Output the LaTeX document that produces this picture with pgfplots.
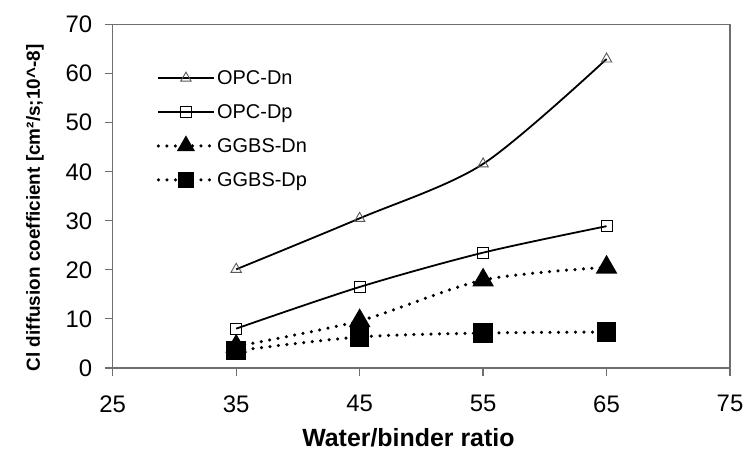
\documentclass[border=0pt]{standalone}
\usepackage{fontspec}
\setmainfont{Liberation Sans}
\usepackage{pgfplots}
\usepackage{pgfplotstable}
\pgfplotsset{compat=1.18}
\definecolor{axisgray}{RGB}{110,110,110}

% water/binder ratio vs Cl diffusion coefficient
\pgfplotstableread{
wb  opcdn opcdp ggbsdn ggbsdp
35  20.1  8.0   4.4    3.5
45  30.5  16.5  9.6    6.3
55  41.6  23.5  17.9   7.1
65  63.0  28.9  20.5   7.3
}\diffdata

\begin{document}
\begin{tikzpicture}
    \begin{axis}[
            scale only axis, width=617bp, height=343bp,
            xmin=25, xmax=75, ymin=0, ymax=70,
            xtick={25,35,...,75}, ytick={0,10,...,70},
            xtick pos=bottom, ytick pos=left,
            tick align=outside, major tick length=8bp,
            axis line style={axisgray, line width=1.3bp},
            tick style={axisgray, line width=1.3bp},
            /pgf/number format/assume math mode=true,
            ticklabel style={font=\fontsize{24}{28}\selectfont},
            xticklabel style={yshift=-16bp},
            yticklabel style={xshift=-9bp},
            xlabel={Water/binder ratio},
            ylabel={Cl diffusion coefficient [cm²/s;10\textasciicircum-8]},
            xlabel style={font=\bfseries\fontsize{25}{28}\selectfont, inner sep=0pt,
                at={(axis description cs:0.479,-0.228)}, anchor=base},
            ylabel style={font=\bfseries\fontsize{19}{22}\selectfont,
                at={(axis description cs:-0.126,0.466)}, anchor=center},
            legend style={draw=none, fill=none, at={(rel axis cs:0.066,0.879)}, anchor=north west,
                font=\fontsize{20}{23}\selectfont, row sep=14.5bp},
            legend cell align=left,
            legend image code/.code={
                \draw[mark repeat=2,mark phase=2,#1] plot coordinates {(0bp,0bp)(27.5bp,0bp)(55bp,0bp)};},
        ]
        \addplot[black, line width=1.8bp, smooth,
            mark=triangle, mark size=6bp,
            mark options={solid, fill=white, draw=black!65, line width=0.9bp}]
            table[x=wb, y=opcdn] {\diffdata};
        \addlegendentry{OPC-Dn}
        \addplot[black, line width=1.8bp, smooth,
            mark=square, mark size=5.5bp,
            mark options={solid, fill=white, draw=black, line width=0.9bp}]
            table[x=wb, y=opcdp] {\diffdata};
        \addlegendentry{OPC-Dp}
        \addplot[black, line width=3.5bp, smooth, line cap=round, dash pattern=on 0bp off 8.5bp,
            mark=triangle*, mark size=9bp,
            mark options={solid, fill=black},
            legend image post style={mark size=7bp}]
            table[x=wb, y=ggbsdn] {\diffdata};
        \addlegendentry{GGBS-Dn}
        \addplot[black, line width=3.5bp, smooth, line cap=round, dash pattern=on 0bp off 8.5bp,
            mark=square*, mark size=8bp,
            mark options={solid, fill=black},
            legend image post style={mark size=6bp}]
            table[x=wb, y=ggbsdp] {\diffdata};
        \addlegendentry{GGBS-Dp}
        \coordinate (sw) at (rel axis cs:0,0);
        \coordinate (ne) at (rel axis cs:1,1);
    \end{axis}
    \pgfresetboundingbox
    \path[use as bounding box] ([shift={(-112.7bp,-85.3bp)}]sw) rectangle ([shift={(16bp,24.7bp)}]ne);
\end{tikzpicture}
\end{document}
